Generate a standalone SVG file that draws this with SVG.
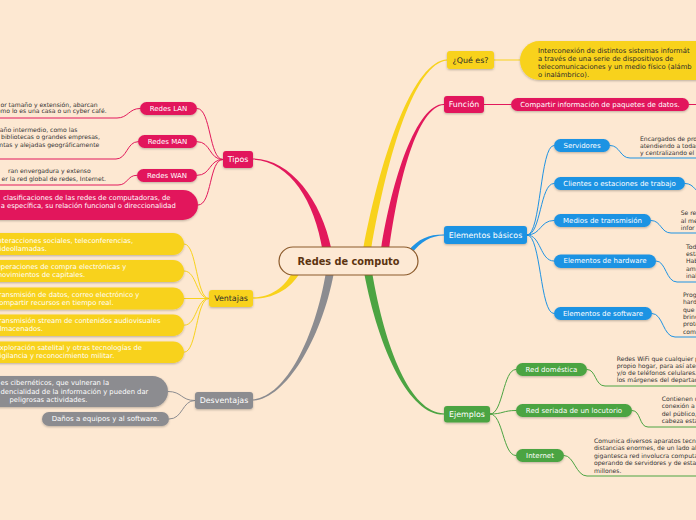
<svg xmlns="http://www.w3.org/2000/svg" width="696" height="520" viewBox="0 0 696 520">
<defs>
<filter id="sh" x="-20%" y="-30%" width="140%" height="170%">
<feDropShadow dx="0" dy="1" stdDeviation="0.8" flood-color="#000" flood-opacity="0.25"/>
</filter>
<style>
text{font-family:"DejaVu Sans","Liberation Sans",sans-serif;dominant-baseline:central}
.br{font-size:7.9px}
.pl{font-size:7px;fill:#fff}
.ml{font-size:6.8px}
.ds{font-size:6.1px;fill:#333}
.c{text-anchor:middle}
.e{text-anchor:end}
.w{fill:#fff}
.k{fill:#2a2a2a}
.pk{fill:#e2195c}
.yl{fill:#f8d21c}
.bl{fill:#1f93e3}
.gn{fill:#4ca442}
.gy{fill:#8c8c90}
.lpk{stroke:#e2195c;fill:none;stroke-width:1}
.lyl{stroke:#f8d21c;fill:none;stroke-width:1}
.lbl{stroke:#1f93e3;fill:none;stroke-width:1}
.lgn{stroke:#4ca442;fill:none;stroke-width:1}
.lgy{stroke:#8c8c90;fill:none;stroke-width:1}
.nd{filter:url(#sh)}
</style>
</defs>
<rect width="696" height="520" fill="#fde8d2"/>

<g id="connectors">
<path class="pk" d="M322.6,250.8 C314.6,200.6 290,161.3 253,159.6 L253,158.4 C290,158.7 321.4,199.4 331.4,249.2 Z"/>
<path class="yl" d="M293.9,269.4 C284.5,288.7 270,296.8 253,297.4 L253,298.6 C270,299.2 289.5,291.3 300.1,272.6 Z"/>
<path class="gy" d="M326.1,271.3 C314.8,339.4 285,396.8 253,399.4 L253,400.6 C285,399.2 321.2,340.6 333.9,272.7 Z"/>
<path class="yl" d="M363.1,249.3 C381.9,149.4 414.5,60.6 447,59.4 L447,60.6 C415.5,63.4 388.1,150.6 370.9,250.7 Z"/>
<path class="pk" d="M381,249.4 C391.8,179.5 416.5,103.6 444,103.9 L444,105.1 C417.5,106.4 398.2,180.5 389,250.6 Z"/>
<path class="bl" d="M408.5,250.5 C418.5,238.5 429.5,234.2 444,234.4 L444,235.6 C430.5,235.8 421.5,241.5 411.5,253.5 Z"/>
<path class="gn" d="M371.9,271.3 C385.1,349.4 410.5,412.6 444,413.4 L444,414.6 C409.5,415.4 378.9,350.6 364.1,272.7 Z"/>

<path class="lpk" d="M223,159.5 C209,159.5 211,108.5 197,108.5"/>
<path class="lpk" d="M223,159.5 C209,159.5 211,141.7 197,141.7"/>
<path class="lpk" d="M223,159.5 C209,159.5 211,175.3 197,175.3"/>
<path class="lpk" d="M223,159.5 C209,159.5 212,205 198,205"/>
<path class="lpk" d="M140,108.5 C129,108.5 128,118 117,118 L-5,118"/>
<path class="lpk" d="M138,141.7 C127,141.7 127,159 116,159 L-5,159"/>
<path class="lpk" d="M137,175.3 C127,175.3 128,185 118,185 L-5,185"/>

<path class="lyl" d="M209,298.5 C196,298.5 197,244 184,244"/>
<path class="lyl" d="M209,298.5 C196,298.5 197,271 184,271"/>
<path class="lyl" d="M209,298.5 L184,298.5"/>
<path class="lyl" d="M209,298.5 C196,298.5 197,325.2 184,325.2"/>
<path class="lyl" d="M209,298.5 C196,298.5 197,352.2 184,352.2"/>

<path class="lgy" d="M195,400.5 C181,400.5 182,391.5 168,391.5"/>
<path class="lgy" d="M195,400.5 C182,400.5 183,419 169,419"/>

<path class="lyl" d="M494,60 L520,60"/>
<path class="lpk" d="M484,104.5 L511,104.5"/>
<path class="lpk" d="M689,104.5 L700,104.5"/>

<path class="lbl" d="M527,235 C541,235 540,145.5 554,145.5"/>
<path class="lbl" d="M527,235 C541,235 540,183.5 554,183.5"/>
<path class="lbl" d="M527,235 C541,235 540,220.5 554,220.5"/>
<path class="lbl" d="M527,235 C541,235 540,261 554,261"/>
<path class="lbl" d="M527,235 C541,235 540,313.5 554,313.5"/>
<path class="lbl" d="M610,145.5 C620,145.5 620,158 630,158 L700,158"/>
<path class="lbl" d="M685,183.5 C695,183.5 695,194 705,194"/>
<path class="lbl" d="M651,220.5 C661,220.5 661,233 671,233 L700,233"/>
<path class="lbl" d="M656,261 C666,261 666,282 677,282 L700,282"/>
<path class="lbl" d="M652,313.5 C663,313.5 663,337 675,337 L700,337"/>

<path class="lgn" d="M490,414 C503,414 503,369.5 516,369.5"/>
<path class="lgn" d="M490,414 C503,414 503,410.5 516,410.5"/>
<path class="lgn" d="M490,414 C503,414 503,455.5 516,455.5"/>
<path class="lgn" d="M587,369.5 C596,369.5 595,386 605,386 L700,386"/>
<path class="lgn" d="M632,410.5 C641,410.5 639,427 648,427 L700,427"/>
<path class="lgn" d="M564,455.5 C574,455.5 576,476 587,476 L700,476"/>
</g>

<g id="center">
<rect x="279" y="247" width="139" height="28" rx="14" fill="#fde9d4" stroke="#8b5a2b" stroke-width="1.2"/>
<text x="348.5" y="261.5" class="c" font-size="11" font-weight="bold" fill="#5c3410" textLength="102" lengthAdjust="spacingAndGlyphs">Redes de computo</text>
</g>

<g id="tipos">
<rect class="pk nd" x="223" y="151" width="30" height="17" rx="3"/>
<text class="br c w" x="238" y="159.7">Tipos</text>
</g>
<g id="redes-lan">
<rect class="pk nd" x="140" y="102" width="57" height="13" rx="6.5"/>
<text class="pl c" x="168.5" y="108.6">Redes LAN</text>
</g>
<g id="redes-lan-desc">
<text class="ds e" x="97.7" y="104">or tamaño y extensión, abarcan</text>
<text class="ds e" x="106.7" y="110.9">omo lo es una casa o un cyber café.</text>
</g>
<g id="redes-man">
<rect class="pk nd" x="138" y="135" width="59" height="13" rx="6.5"/>
<text class="pl c" x="167.5" y="141.6">Redes MAN</text>
</g>
<g id="redes-man-desc">
<text class="ds e" x="77.3" y="129.3">año intermedio, como las</text>
<text class="ds e" x="100" y="136.8">s bibliotecas o grandes empresas,</text>
<text class="ds e" x="99.3" y="144.3">intas y alejadas geográficamente</text>
</g>
<g id="redes-wan">
<rect class="pk nd" x="137" y="169" width="60" height="13" rx="6.5"/>
<text class="pl c" x="167" y="175.6">Redes WAN</text>
</g>
<g id="redes-wan-desc">
<text class="ds e" x="90.7" y="170.7">ran envergadura y extenso</text>
<text class="ds e" x="106" y="178.3">er la red global de redes, Internet.</text>
</g>
<g id="tipos-desc">
<rect class="pk nd" x="-30" y="190" width="228" height="30" rx="15"/>
<text class="ml w" x="3.3" y="197.8">clasificaciones de las redes de computadoras, de</text>
<text class="ml w" x="0.7" y="206.2">a específica, su relación funcional o direccionalidad</text>
</g>

<g id="ventajas">
<rect class="yl nd" x="209" y="290" width="44" height="17" rx="3"/>
<text class="br c k" x="231" y="298.7">Ventajas</text>
</g>
<g id="ventaja-1">
<rect class="yl nd" x="-30" y="233" width="214" height="22" rx="11"/>
<text class="ml w" x="-4.5" y="240.5">Interacciones sociales, teleconferencias,</text>
<text class="ml w" x="-4.5" y="248.6">videollamadas.</text>
</g>
<g id="ventaja-2">
<rect class="yl nd" x="-30" y="260" width="214" height="22" rx="11"/>
<text class="ml w" x="-4.5" y="267.3">Operaciones de compra electrónicas y</text>
<text class="ml w" x="-4.5" y="275.4">movimientos de capitales.</text>
</g>
<g id="ventaja-3">
<rect class="yl nd" x="-30" y="287.5" width="214" height="22" rx="11"/>
<text class="ml w" x="-4.5" y="294.8">Transmisión de datos, correo electrónico y</text>
<text class="ml w" x="-4.5" y="302.9">compartir recursos en tiempo real.</text>
</g>
<g id="ventaja-4">
<rect class="yl nd" x="-30" y="314.5" width="214" height="21.5" rx="10.75"/>
<text class="ml w" x="-4.5" y="321.4">Transmisión stream de contenidos audiovisuales</text>
<text class="ml w" x="-4.5" y="329.4">almacenados.</text>
</g>
<g id="ventaja-5">
<rect class="yl nd" x="-30" y="341.5" width="214" height="21.5" rx="10.75"/>
<text class="ml w" x="-4.5" y="348.4">Exploración satelital y otras tecnologías de</text>
<text class="ml w" x="-4.5" y="356.4">vigilancia y reconocimiento militar.</text>
</g>

<g id="desventajas">
<rect class="gy nd" x="195" y="392" width="58" height="17" rx="3"/>
<text class="br c w" x="224" y="400.7">Desventajas</text>
</g>
<g id="desventaja-1">
<rect class="gy nd" x="-30" y="376" width="198" height="31" rx="15.5"/>
<text class="ml w" x="0.5" y="383.4">es cibernéticos, que vulneran la</text>
<text class="ml w" x="0.5" y="391.8">dencialidad de la información y pueden dar</text>
<text class="ml w" x="9.5" y="400.2">peligrosas actividades.</text>
</g>
<g id="desventaja-2">
<rect class="gy nd" x="42" y="412" width="127" height="14" rx="7"/>
<text class="pl c" x="105.5" y="419.1">Daños a equipos y al software.</text>
</g>

<g id="que-es">
<rect class="yl nd" x="447" y="51" width="47" height="18" rx="3"/>
<text class="br c k" x="470.5" y="60.2">¿Qué es?</text>
</g>
<g id="que-es-desc">
<rect class="yl nd" x="520" y="41" width="200" height="39" rx="19.5"/>
<text class="ml k" x="538" y="51">Interconexión de distintos sistemas informát</text>
<text class="ml k" x="538" y="59">a través de una serie de dispositivos de</text>
<text class="ml k" x="538" y="67">telecomunicaciones y un medio físico (alámb</text>
<text class="ml k" x="538" y="75">o inalámbrico).</text>
</g>

<g id="funcion">
<rect class="pk nd" x="444" y="96" width="40" height="17" rx="3"/>
<text class="br c w" x="464" y="104.7">Función</text>
</g>
<g id="funcion-desc">
<rect class="pk nd" x="511" y="98" width="178" height="13" rx="6.5"/>
<text class="pl c" x="600" y="104.6">Compartir información de paquetes de datos.</text>
</g>

<g id="elementos-basicos">
<rect class="bl nd" x="444" y="226" width="83" height="18" rx="3"/>
<text class="br c w" x="485.5" y="235.2">Elementos básicos</text>
</g>
<g id="servidores">
<rect class="bl nd" x="554" y="139" width="56" height="13" rx="6.5"/>
<text class="pl c" x="582" y="145.6">Servidores</text>
</g>
<g id="servidores-desc">
<text class="ds" x="640" y="138.3">Encargados de pro</text>
<text class="ds" x="640" y="145.3">atendiendo a todas</text>
<text class="ds" x="640" y="152.3">y centralizando el</text>
</g>
<g id="clientes">
<rect class="bl nd" x="554" y="177" width="131" height="13" rx="6.5"/>
<text class="pl c" x="619.5" y="183.6">Clientes o estaciones de trabajo</text>
</g>
<g id="medios">
<rect class="bl nd" x="554" y="214" width="97" height="13" rx="6.5"/>
<text class="pl c" x="602.5" y="220.6">Medios de transmisión</text>
</g>
<g id="medios-desc">
<text class="ds" x="680.7" y="212.3">Se re</text>
<text class="ds" x="680.7" y="220">al me</text>
<text class="ds" x="680.7" y="227.7">infor</text>
</g>
<g id="hardware">
<rect class="bl nd" x="554" y="254.5" width="102" height="13.5" rx="6.75"/>
<text class="pl c" x="605" y="261.3">Elementos de hardware</text>
</g>
<g id="hardware-desc">
<text class="ds" x="686" y="246">Todo</text>
<text class="ds" x="686" y="253.3">esta</text>
<text class="ds" x="686" y="260.7">Hab</text>
<text class="ds" x="686" y="268">amb</text>
<text class="ds" x="686" y="275.5">inal</text>
</g>
<g id="software">
<rect class="bl nd" x="554" y="307" width="98" height="13" rx="6.5"/>
<text class="pl c" x="603" y="313.6">Elementos de software</text>
</g>
<g id="software-desc">
<text class="ds" x="683" y="294.3">Prog</text>
<text class="ds" x="683" y="301.7">hard</text>
<text class="ds" x="683" y="309">que</text>
<text class="ds" x="683" y="316.3">brind</text>
<text class="ds" x="683" y="323.6">prote</text>
<text class="ds" x="683" y="331">comp</text>
</g>

<g id="ejemplos">
<rect class="gn nd" x="444" y="406" width="46" height="16.5" rx="3"/>
<text class="br c w" x="467" y="414.3">Ejemplos</text>
</g>
<g id="red-domestica">
<rect class="gn nd" x="516" y="363" width="71" height="13" rx="6.5"/>
<text class="pl c" x="551.5" y="369.6">Red doméstica</text>
</g>
<g id="red-domestica-desc">
<text class="ds" x="616.7" y="358.3">Redes WiFi que cualquier p</text>
<text class="ds" x="616.7" y="365.4">propio hogar, para así aten</text>
<text class="ds" x="616.7" y="372.5">y/o de teléfonos celulares.</text>
<text class="ds" x="616.7" y="379.5">los márgenes del departam</text>
</g>
<g id="red-seriada">
<rect class="gn nd" x="516" y="404" width="116" height="13" rx="6.5"/>
<text class="pl c" x="574" y="410.6">Red seriada de un locutorio</text>
</g>
<g id="red-seriada-desc">
<text class="ds" x="661.7" y="398.3">Contienen u</text>
<text class="ds" x="661.7" y="405.7">conexión a</text>
<text class="ds" x="661.7" y="413">del público,</text>
<text class="ds" x="661.7" y="420.3">cabeza esta</text>
</g>
<g id="internet">
<rect class="gn nd" x="516" y="449" width="48" height="13" rx="6.5"/>
<text class="pl c" x="540" y="455.6">Internet</text>
</g>
<g id="internet-desc">
<text class="ds" x="594" y="440">Comunica diversos aparatos tecno</text>
<text class="ds" x="594" y="447.5">distancias enormes, de un lado al</text>
<text class="ds" x="594" y="455">gigantesca red involucra computa</text>
<text class="ds" x="594" y="462.5">operando de servidores y de estac</text>
<text class="ds" x="594" y="470">millones.</text>
</g>
</svg>
